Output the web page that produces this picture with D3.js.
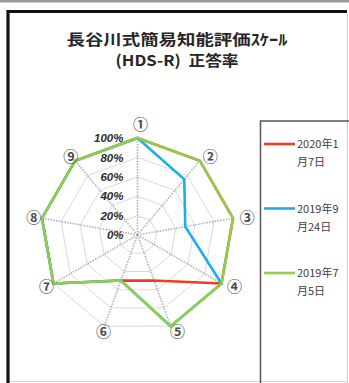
<!DOCTYPE html>
<html><head><meta charset="utf-8">
<script src="https://cdn.jsdelivr.net/npm/d3@7"></script>
<style>html,body{margin:0;padding:0;background:#fff;overflow:hidden} text{white-space:pre}</style>
</head><body>
<svg id="c" width="349" height="383"></svg>
<script>
const titleLines = ["長谷川式簡易知能評価ｽｹｰﾙ", "(HDS-R)  正答率"];
const axisLabels = ["①","②","③","④","⑤","⑥","⑦","⑧","⑨"];
const tickValues = [0, 0.2, 0.4, 0.6, 0.8, 1.0];
const tickLabels = ["0%","20%","40%","60%","80%","100%"];
const seriesNames = ["2020年1月7日", "2019年9月24日", "2019年7月5日"];
const seriesColors = ["#f23a22", "#1aafe6", "#8fcf4c"];
const values2020_01_07 = [1.0, 1.0, 1.0, 1.0, 0.5, 0.5, 1.0, 1.0, 1.0];
const values2019_09_24 = [1.0, 0.75, 0.5, 1.0, 1.0, 0.5, 1.0, 1.0, 1.0];
const values2019_07_05 = [1.0, 1.0, 1.0, 1.0, 1.0, 0.5, 1.0, 1.0, 1.0];
const seriesValues = [values2020_01_07, values2019_09_24, values2019_07_05];

const svg = d3.select("#c");
const W = 349, H = 383;
const CJK = "'Noto Sans CJK JP','Noto Sans',sans-serif";
const LAT = "'Liberation Sans',Arial,sans-serif";

// page decorations
svg.append("rect").attr("x",0).attr("y",0).attr("width",W).attr("height",2.5).attr("fill","#9a9a9a");
svg.append("line").attr("x1",347.5).attr("x2",347.5).attr("y1",13).attr("y2",H).attr("stroke","#cfcfcf").attr("stroke-width",1.2);
svg.append("line").attr("x1",9).attr("x2",348).attr("y1",381.5).attr("y2",381.5).attr("stroke","#d6d6d6").attr("stroke-width",1.2);
svg.append("path").attr("d",`M8,${H} L8,11.5 L347,11.5`).attr("fill","none").attr("stroke","#111").attr("stroke-width",3.2);

// title
const titleWidths = [221, 123];
const titleY = [45, 66];
titleLines.forEach((t,i) => {
  svg.append("text").attr("x",177).attr("y",titleY[i]).attr("text-anchor","middle")
    .attr("font-family",CJK).attr("font-weight","bold").attr("font-size",15)
    .attr("fill","#262626").attr("xml:space","preserve")
    .attr("textLength",titleWidths[i]).attr("lengthAdjust","spacingAndGlyphs")
    .text(t);
});

// radar
const cx = 137.5, cy = 235, R = 97;
const n = axisLabels.length;
const r = d3.scaleLinear().domain([0,1]).range([0,R]);
const ang = d3.scaleLinear().domain([0,n]).range([0,2*Math.PI]);
const g = svg.append("g").attr("transform",`translate(${cx},${cy})`);

const ring = d3.lineRadial().angle((d,i)=>ang(i)).radius(d=>r(d)).curve(d3.curveLinearClosed);
tickValues.filter(v=>v>0).forEach(v => {
  g.append("path").attr("d", ring(axisLabels.map(()=>v)))
    .attr("fill","none").attr("stroke","#dadada").attr("stroke-width",1);
});
axisLabels.forEach((lab,i) => {
  const a = ang(i);
  g.append("line").attr("x1",0).attr("y1",0)
    .attr("x2", r(1)*Math.sin(a)).attr("y2", -r(1)*Math.cos(a))
    .attr("stroke","#b0b0b0").attr("stroke-width",1.6).attr("stroke-dasharray","1.5,1.3");
});

// series
seriesValues.forEach((vals,k) => {
  g.append("path").attr("d", ring(vals))
    .attr("fill","none").attr("stroke",seriesColors[k]).attr("stroke-width",2.6)
    .attr("stroke-linejoin","miter");
});

// tick labels
tickValues.forEach((v,i) => {
  g.append("text").attr("x",-14).attr("y",-r(v)).attr("dy","0.36em")
    .attr("text-anchor","end").attr("font-family",LAT).attr("font-weight","bold")
    .attr("font-style","italic").attr("font-size",11.5).attr("fill","#2b2b2b")
    .text(tickLabels[i]);
});

// axis labels
axisLabels.forEach((lab,i) => {
  const a = ang(i), s = Math.sin(a), c = Math.cos(a);
  const px = r(1)*s, py = -r(1)*c;
  const dx = 3 + s*11.5;
  const dy = c > 0.99 ? -13 : -c*6;
  g.append("text").attr("x",px+dx).attr("y",py+dy).attr("dy","0.36em")
    .attr("text-anchor","middle").attr("font-family",CJK).attr("font-size",15)
    .attr("font-weight","bold").attr("fill","#4a4a4a").text(lab);
});

// legend
svg.append("rect").attr("x",260.5).attr("y",121).attr("width",120).attr("height",300)
  .attr("fill","none").attr("stroke","#555").attr("stroke-width",1.5);
const legY = d3.scalePoint().domain(seriesNames).range([144, 273]);
seriesNames.forEach((name,k) => {
  const y = legY(name);
  svg.append("line").attr("x1",264).attr("x2",295).attr("y1",y).attr("y2",y)
    .attr("stroke",seriesColors[k]).attr("stroke-width",2.6);
  const t = svg.append("text").attr("font-family",CJK).attr("font-size",11).attr("fill","#404040");
  t.append("tspan").attr("x",297).attr("y",y+4).text(name.slice(0,6));
  t.append("tspan").attr("x",297).attr("y",y+22).text(name.slice(6));
});
</script>
</body></html>
